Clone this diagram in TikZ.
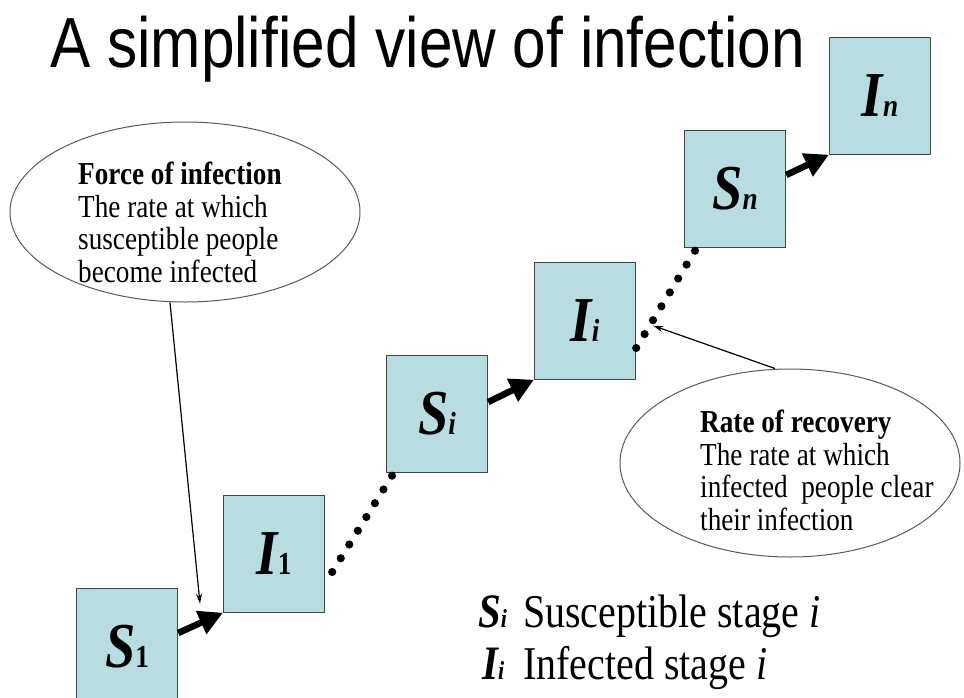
\documentclass[tikz,border=0pt]{standalone}
\usepackage{fontspec}
\setmainfont{Liberation Serif}[FakeStretch=0.85]
\newfontfamily\titlefont{Liberation Sans}[FakeStretch=0.85]
\usetikzlibrary{arrows.meta,shapes.geometric,calc}
\definecolor{boxfill}{RGB}{183,221,224}
\definecolor{boxline}{RGB}{70,70,70}
\definecolor{ellline}{RGB}{90,90,90}
\newcommand{\boxlabel}[2]{{\fontsize{64}{64}\selectfont\bfseries\itshape #1}{\fontsize{32}{32}\selectfont\bfseries #2}}
\begin{document}
\begin{tikzpicture}[x=1pt,y=-1pt,
  stage/.style={draw=boxline,line width=1.2pt,fill=boxfill,minimum width=101pt,minimum height=116.5pt,inner sep=0pt,anchor=north west},
  bubble/.style={ellipse,draw=ellline,line width=1pt,inner sep=0pt},
  bigarrow/.style={line width=6.5pt,-{Triangle[length=24pt,width=24pt]}},
  thinarrow/.style={line width=1.2pt,-{Stealth[length=10pt,width=6pt]}},
  bubbletext/.style={anchor=north west,inner sep=0pt,align=left,font=\fontsize{32}{32.5}\selectfont},
  legend/.style={anchor=base west,inner sep=0pt}
]
\useasboundingbox (0,0) rectangle (964,697);
\fill[white] (0,0) rectangle (964,697);
\begin{scope}
\clip (0,0) rectangle (964,697);
\node[stage] (S1) at (76,588) {\boxlabel{S}{1}};
\end{scope}
\node[stage] (I1) at (223,495) {\boxlabel{I}{1}};
\node[stage] (Si) at (386,355) {\boxlabel{S}{\itshape i}};
\node[stage] (Ii) at (534,262) {\boxlabel{I}{\itshape i}};
\node[stage] (Sn) at (684,130) {\boxlabel{S}{\itshape n}};
\node[stage] (In) at (829,37) {\boxlabel{I}{\itshape n}};

\node[anchor=base west,inner sep=0pt] (title) at (50,67) {\titlefont\fontsize{71}{71}\selectfont A simplified view of infection};

\draw[bigarrow] ([yshift=-45pt]S1.north east) -- (I1.south west);
\draw[bigarrow] ([yshift=-47pt]Si.north east) -- (Ii.south west);
\draw[bigarrow] ([yshift=-45pt]Sn.north east) -- (In.south west);

\coordinate (d1a) at ([xshift=7pt,yshift=-77pt]I1.north east);
\coordinate (d1b) at ([xshift=6pt,yshift=-3pt]Si.south west);
\foreach \k in {0,...,7} \fill ($(d1a)!\k/7!(d1b)$) circle (4.1pt);
\coordinate (d2a) at ([yshift=-86pt]Ii.north east);
\coordinate (d2b) at ([xshift=11pt,yshift=-3pt]Sn.south west);
\foreach \k in {0,...,7} \fill ($(d2a)!\k/7!(d2b)$) circle (4.1pt);

\node[bubble,minimum width=350pt,minimum height=180pt] (foi) at (185,212) {};
\node[bubbletext] (foitext) at (78,162) {\textbf{Force of infection}\\The rate at which\\susceptible people\\become infected};
\node[bubble,minimum width=340pt,minimum height=188pt] (rec) at (790,463) {};
\node[bubbletext] (rectext) at (700,410) {\textbf{Rate of recovery}\\The rate at which\\infected\ \ people clear\\their infection};

\coordinate (foiend) at ([xshift=-23pt,yshift=9pt]I1.south west);
\draw[thinarrow] ([xshift=-15pt]foi.south) -- (foiend);
\coordinate (recend) at ([xshift=17pt,yshift=54pt]Ii.south east);
\draw[thinarrow] ([xshift=-15pt]rec.north) -- (recend);

\node[legend] (legS) at (478,627) {\fontsize{48}{48}\selectfont\bfseries\itshape S\fontsize{26}{26}\selectfont i};
\node[legend] (legStext) at (523,627) {\fontsize{47}{47}\selectfont Susceptible stage \textit{i}};
\node[legend] (legI) at (482,679) {\fontsize{48}{48}\selectfont\bfseries\itshape I\fontsize{26}{26}\selectfont i};
\node[legend] (legItext) at (523,679) {\fontsize{47}{47}\selectfont Infected stage \textit{i}};
\end{tikzpicture}
\end{document}
